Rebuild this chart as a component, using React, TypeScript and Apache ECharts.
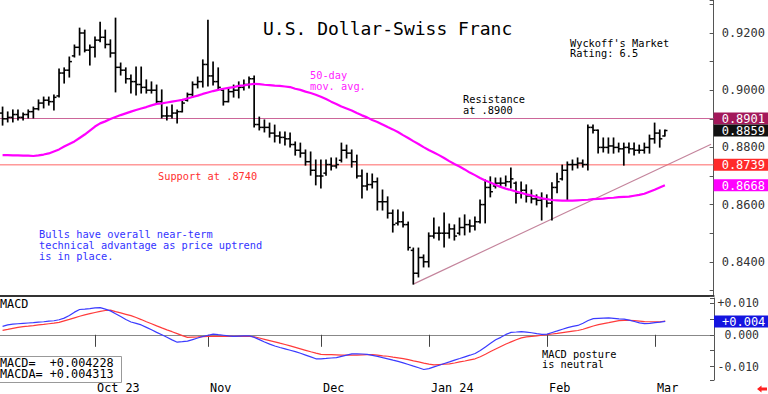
import React, { useEffect, useRef } from 'react';
import * as echarts from 'echarts';

const MONO = '"DejaVu Sans Mono", "Liberation Mono", monospace';

// ---- categories (weekday trading days, incl. empty future slots) ----
const FIRST_DAY = [2023, 8, 6]; // 2023-09-06
const SLOT_COUNT = 139;
const MONTH_TICKS: Record<string, string> = {
  '2023-10-02': 'Oct 23',
  '2023-11-01': 'Nov',
  '2023-12-01': 'Dec',
  '2024-01-01': 'Jan 24',
  '2024-02-01': 'Feb',
  '2024-03-01': 'Mar',
};
function tradingDays(): string[] {
  const out: string[] = [];
  const d = new Date(Date.UTC(FIRST_DAY[0], FIRST_DAY[1], FIRST_DAY[2]));
  while (out.length < SLOT_COUNT) {
    const wd = d.getUTCDay();
    if (wd !== 0 && wd !== 6) out.push(d.toISOString().slice(0, 10));
    d.setUTCDate(d.getUTCDate() + 1);
  }
  return out;
}
const DATES = tradingDays();

// ---- price bars ----
const OPEN = [0.8920,0.8900,0.8905,0.8915,0.8905,0.8915,0.8925,0.8935,0.8955,0.8965,
0.8960,0.8980,0.9060,0.9070,0.9120,0.9150,0.9200,0.9140,0.9150,0.9175,
0.9185,0.9160,0.9130,0.9080,0.9070,0.9040,0.9030,0.9020,0.9010,0.9000,
0.9000,0.8960,0.8910,0.8910,0.8920,0.8925,0.8965,0.8985,0.9020,0.9030,
0.9090,0.9050,0.9030,0.9000,0.8960,0.8995,0.9000,0.9010,0.9020,0.9040,
0.8880,0.8870,0.8870,0.8850,0.8840,0.8835,0.8830,0.8810,0.8790,0.8780,
0.8750,0.8720,0.8700,0.8710,0.8740,0.8735,0.8755,0.8790,0.8780,0.8750,
0.8700,0.8665,0.8670,0.8680,0.8610,0.8610,0.8570,0.8535,0.8540,0.8530,
0.8440,0.8360,0.8415,0.8400,0.8490,0.8500,0.8500,0.8500,0.8515,0.8500,
0.8520,0.8530,0.8525,0.8540,0.8600,0.8660,0.8665,0.8675,0.8675,0.8680,
0.8675,0.8640,0.8650,0.8630,0.8620,0.8615,0.8620,0.8605,0.8660,0.8690,
0.8720,0.8740,0.8740,0.8745,0.8740,0.8870,0.8860,0.8800,0.8800,0.8805,
0.8800,0.8795,0.8800,0.8795,0.8790,0.8790,0.8800,0.8830,0.8850,0.8840];
const HIGH = [0.8941,0.8924,0.8931,0.8931,0.8920,0.8931,0.8941,0.8966,0.8976,0.8976,
0.8983,0.9074,0.9078,0.9116,0.9158,0.9217,0.9210,0.9158,0.9186,0.9238,
0.9210,0.9176,0.9252,0.9095,0.9078,0.9053,0.9081,0.9081,0.9036,0.9029,
0.9018,0.9001,0.8941,0.8948,0.8931,0.8966,0.8990,0.9029,0.9046,0.9106,
0.9245,0.9099,0.9078,0.9001,0.9008,0.9018,0.9029,0.9036,0.9046,0.9050,
0.8906,0.8896,0.8885,0.8878,0.8854,0.8854,0.8850,0.8819,0.8815,0.8791,
0.8784,0.8756,0.8756,0.8756,0.8763,0.8763,0.8815,0.8808,0.8791,0.8773,
0.8721,0.8710,0.8707,0.8693,0.8651,0.8627,0.8581,0.8581,0.8574,0.8539,
0.8448,0.8448,0.8424,0.8501,0.8553,0.8522,0.8571,0.8532,0.8529,0.8553,
0.8564,0.8546,0.8557,0.8616,0.8686,0.8697,0.8693,0.8693,0.8700,0.8728,
0.8679,0.8679,0.8669,0.8651,0.8634,0.8641,0.8634,0.8676,0.8710,0.8738,
0.8749,0.8756,0.8763,0.8756,0.8878,0.8878,0.8861,0.8833,0.8833,0.8833,
0.8815,0.8815,0.8815,0.8815,0.8808,0.8815,0.8843,0.8885,0.8861,0.8861];
const LOW = [0.8878,0.8889,0.8889,0.8896,0.8896,0.8903,0.8903,0.8931,0.8938,0.8948,
0.8931,0.8976,0.9025,0.9046,0.9116,0.9123,0.9134,0.9088,0.9116,0.9169,
0.9148,0.9116,0.8994,0.9053,0.9025,0.8990,0.8983,0.8990,0.8990,0.8990,
0.8955,0.8903,0.8896,0.8903,0.8885,0.8924,0.8962,0.8976,0.9008,0.9011,
0.9015,0.9018,0.9001,0.8948,0.8959,0.8976,0.8973,0.9001,0.9008,0.8871,
0.8861,0.8854,0.8836,0.8819,0.8815,0.8808,0.8801,0.8773,0.8766,0.8738,
0.8703,0.8669,0.8658,0.8703,0.8721,0.8728,0.8749,0.8763,0.8731,0.8693,
0.8623,0.8651,0.8658,0.8581,0.8581,0.8553,0.8504,0.8529,0.8522,0.8441,
0.8322,0.8347,0.8382,0.8382,0.8483,0.8476,0.8452,0.8483,0.8476,0.8494,
0.8494,0.8504,0.8511,0.8536,0.8536,0.8627,0.8658,0.8662,0.8665,0.8658,
0.8606,0.8623,0.8609,0.8606,0.8599,0.8546,0.8592,0.8546,0.8641,0.8686,
0.8616,0.8721,0.8728,0.8731,0.8721,0.8850,0.8780,0.8784,0.8780,0.8780,
0.8784,0.8738,0.8780,0.8773,0.8780,0.8780,0.8780,0.8815,0.8801,0.8840];
const CLOSE = [0.8900,0.8905,0.8915,0.8905,0.8915,0.8925,0.8935,0.8955,0.8965,0.8960,
0.8975,0.9060,0.9070,0.9100,0.9150,0.9200,0.9140,0.9150,0.9175,0.9185,
0.9160,0.9130,0.9080,0.9070,0.9040,0.9030,0.9020,0.9010,0.9000,0.9000,
0.8960,0.8910,0.8910,0.8920,0.8925,0.8955,0.8985,0.9020,0.9030,0.9090,
0.9050,0.9030,0.9010,0.8960,0.8995,0.9000,0.9010,0.9020,0.9040,0.8880,
0.8870,0.8870,0.8850,0.8840,0.8835,0.8830,0.8810,0.8790,0.8780,0.8750,
0.8720,0.8700,0.8700,0.8740,0.8735,0.8740,0.8790,0.8780,0.8750,0.8700,
0.8665,0.8670,0.8680,0.8610,0.8610,0.8570,0.8530,0.8540,0.8530,0.8450,
0.8360,0.8415,0.8400,0.8490,0.8500,0.8500,0.8500,0.8515,0.8490,0.8520,
0.8530,0.8525,0.8540,0.8600,0.8660,0.8645,0.8675,0.8675,0.8680,0.8690,
0.8640,0.8650,0.8630,0.8620,0.8615,0.8620,0.8605,0.8660,0.8680,0.8720,
0.8740,0.8740,0.8745,0.8740,0.8870,0.8860,0.8800,0.8800,0.8805,0.8800,
0.8795,0.8800,0.8795,0.8790,0.8790,0.8800,0.8830,0.8850,0.8830,0.8859];

// 50-day moving average
const MA50 = [0.8773,0.8773,0.8772,0.8772,0.8771,0.8771,0.8770,0.8772,0.8775,0.8779,
0.8786,0.8793,0.8803,0.8812,0.8821,0.8833,0.8845,0.8859,0.8873,0.8884,
0.8891,0.8899,0.8906,0.8913,0.8919,0.8925,0.8931,0.8936,0.8941,0.8947,
0.8952,0.8954,0.8957,0.8960,0.8963,0.8966,0.8971,0.8976,0.8981,0.8987,
0.8992,0.8997,0.9001,0.9005,0.9008,0.9011,0.9015,0.9017,0.9020,0.9022,
0.9021,0.9019,0.9018,0.9016,0.9015,0.9013,0.9011,0.9005,0.9001,0.8995,
0.8990,0.8984,0.8977,0.8969,0.8960,0.8952,0.8943,0.8936,0.8929,0.8920,
0.8912,0.8905,0.8896,0.8889,0.8880,0.8871,0.8863,0.8854,0.8843,0.8833,
0.8822,0.8812,0.8801,0.8791,0.8782,0.8773,0.8763,0.8752,0.8742,0.8733,
0.8723,0.8712,0.8703,0.8693,0.8684,0.8677,0.8669,0.8662,0.8656,0.8651,
0.8646,0.8641,0.8636,0.8632,0.8627,0.8622,0.8619,0.8616,0.8615,0.8614,
0.8614,0.8614,0.8615,0.8616,0.8617,0.8619,0.8620,0.8621,0.8623,0.8624,
0.8626,0.8627,0.8628,0.8631,0.8634,0.8638,0.8645,0.8652,0.8660,0.8668];

// MACD panel
const MACD = [0.00268,0.00311,0.00335,0.00348,0.00360,0.00372,0.00382,0.00400,0.00412,0.00428,
0.00443,0.00474,0.00526,0.00606,0.00714,0.00797,0.00812,0.00828,0.00846,0.00858,
0.00809,0.00754,0.00662,0.00575,0.00483,0.00403,0.00360,0.00311,0.00234,0.00157,
0.00077,0.00000,-0.00080,-0.00160,-0.00234,-0.00218,-0.00200,-0.00151,-0.00102,-0.00055,
-0.00015,0.00022,0.00003,-0.00015,-0.00034,-0.00049,-0.00043,-0.00037,-0.00031,-0.00080,
-0.00151,-0.00225,-0.00295,-0.00354,-0.00400,-0.00443,-0.00486,-0.00529,-0.00582,-0.00640,
-0.00698,-0.00757,-0.00757,-0.00745,-0.00732,-0.00720,-0.00680,-0.00640,-0.00600,-0.00597,
-0.00606,-0.00618,-0.00649,-0.00680,-0.00720,-0.00757,-0.00800,-0.00840,-0.00883,-0.00935,
-0.00988,-0.01040,-0.01095,-0.01068,-0.01012,-0.00960,-0.00905,-0.00852,-0.00797,-0.00748,
-0.00695,-0.00643,-0.00588,-0.00495,-0.00382,-0.00268,-0.00157,-0.00080,0.00012,0.00077,
0.00089,0.00102,0.00086,0.00065,0.00037,0.00012,0.00022,0.00074,0.00123,0.00175,
0.00225,0.00265,0.00295,0.00366,0.00449,0.00508,0.00517,0.00526,0.00535,0.00520,
0.00502,0.00492,0.00462,0.00418,0.00375,0.00354,0.00360,0.00385,0.00400,0.004228];
const MACDA = [0.00138,0.00169,0.00203,0.00234,0.00258,0.00274,0.00292,0.00311,0.00329,0.00348,
0.00366,0.00391,0.00440,0.00486,0.00535,0.00585,0.00628,0.00665,0.00702,0.00738,
0.00766,0.00778,0.00732,0.00689,0.00646,0.00603,0.00545,0.00480,0.00412,0.00348,
0.00280,0.00218,0.00157,0.00098,0.00037,-0.00025,-0.00080,-0.00071,-0.00065,-0.00058,
-0.00052,-0.00049,-0.00049,-0.00049,-0.00049,-0.00049,-0.00049,-0.00049,-0.00049,-0.00062,
-0.00102,-0.00142,-0.00182,-0.00222,-0.00265,-0.00305,-0.00351,-0.00397,-0.00443,-0.00489,
-0.00535,-0.00578,-0.00615,-0.00622,-0.00628,-0.00634,-0.00640,-0.00643,-0.00643,-0.00640,
-0.00634,-0.00628,-0.00625,-0.00643,-0.00665,-0.00677,-0.00702,-0.00726,-0.00751,-0.00785,
-0.00822,-0.00855,-0.00892,-0.00926,-0.00951,-0.00938,-0.00926,-0.00914,-0.00889,-0.00855,
-0.00825,-0.00791,-0.00757,-0.00692,-0.00612,-0.00529,-0.00449,-0.00369,-0.00289,-0.00222,
-0.00157,-0.00098,-0.00068,-0.00052,-0.00034,-0.00015,0.00003,0.00025,0.00046,0.00071,
0.00092,0.00114,0.00135,0.00175,0.00228,0.00277,0.00320,0.00354,0.00382,0.00415,
0.00446,0.00452,0.00452,0.00446,0.00434,0.00418,0.00412,0.00412,0.00412,0.004313];

// key levels
const RESISTANCE = 0.8901;
const SUPPORT = 0.8739;
const LAST_CLOSE = 0.8859;
const LAST_MA = 0.8668;
const LAST_MACD = 0.004228;
const LAST_MACDA = 0.004313;
const TREND_LINE = [[80, 0.8322], [138, 0.8811]];

const PRICE_LABELS = ['0.8400', '0.8600', '0.8800', '0.9000', '0.9200'];
const MACD_LABELS: Record<string, string> = { '0.010': '+0.010', '0.000': '0.000', '-0.010': '-0.010' };

const sign = (v: number, d: number) => (v >= 0 ? '+' : '-') + Math.abs(v).toFixed(d);

// marker values shown on the right-hand scale, with their drawing style
const PRICE_MARKERS = [RESISTANCE, LAST_CLOSE, SUPPORT, LAST_MA];
const PRICE_MARKER_STYLE = [
  { line: '#cc6699', box: '#a3195b', text: RESISTANCE.toFixed(4) },
  { line: '', box: '#111111', text: LAST_CLOSE.toFixed(4) },
  { line: '#ff6666', box: '#ff2a2a', text: SUPPORT.toFixed(4) },
  { line: '', box: '#ff00ff', text: LAST_MA.toFixed(4) },
];
const MACD_MARKERS = [LAST_MACD];
const MACD_MARKER_STYLE = [{ line: '', box: '#1414e0', text: sign(LAST_MACD, 3) }];

function markerRenderer(styles: { line: string; box: string; text: string }[]) {
  return (params: any, api: any) => {
    const k = api.value(2);
    const s = styles[k];
    const cs = params.coordSys;
    const y = api.coord([0, api.value(1)])[1];
    const right = cs.x + cs.width;
    const children: any[] = [];
    if (s.line) {
      children.push({ type: 'line', shape: { x1: cs.x, y1: y, x2: right, y2: y }, style: { stroke: s.line, lineWidth: 1 } });
    }
    children.push({ type: 'rect', shape: { x: right, y: y - 6, width: 56, height: 12 }, style: { fill: s.box } });
    children.push({
      type: 'text', x: right + 8, y: y + 0.5,
      style: { text: s.text, fill: '#fff', fontFamily: MONO, fontSize: 12, verticalAlign: 'middle', align: 'left' },
    });
    return { type: 'group', children };
  };
}

function buildOption(): any {
  const bars = CLOSE.map((c, i) => [i, OPEN[i], c, LOW[i], HIGH[i]]);
  const txt = (text: string, x: number, y: number, fill: string, size: number, lh = 10.5) => ({
    type: 'text',
    x,
    y,
    silent: true,
    style: { text, fill, fontFamily: MONO, fontSize: size, lineHeight: lh, verticalAlign: 'top', align: 'left' },
  });
  return {
    animation: false,
    backgroundColor: '#fff',
    grid: [
      { left: 0, right: 54, top: 0, height: 296 },
      { left: 0, right: 54, top: 298, height: 84 },
    ],
    xAxis: [
      {
        type: 'category', gridIndex: 0, data: DATES, boundaryGap: true,
        axisLine: { show: true, lineStyle: { color: '#333', width: 2 } },
        axisTick: { show: false }, axisLabel: { show: false }, splitLine: { show: false },
      },
      {
        type: 'category', gridIndex: 1, data: DATES, boundaryGap: true,
        axisLine: { show: true, lineStyle: { color: '#888', width: 1 } },
        axisTick: {
          show: true, alignWithLabel: true, length: 12,
          interval: (_i: number, v: string) => v in MONTH_TICKS,
          lineStyle: { color: '#444', width: 1 },
        },
        axisLabel: {
          show: true, interval: (_i: number, v: string) => v in MONTH_TICKS,
          formatter: (v: string) => MONTH_TICKS[v] || '',
          align: 'left', margin: 2, padding: [0, 0, 0, 2],
          fontFamily: MONO, fontSize: 11.8, color: '#000',
        },
        splitLine: { show: false },
      },
    ],
    yAxis: [
      {
        type: 'value', gridIndex: 0, position: 'right', min: 0.82804, max: 0.93154, splitNumber: 10,
        axisLine: { show: true, lineStyle: { color: '#555', width: 1 } },
        axisTick: { show: true, inside: true, length: 4, lineStyle: { color: '#555' } },
        axisLabel: {
          margin: 8, fontFamily: MONO, fontSize: 12, color: '#333',
          formatter: (v: number) => (PRICE_LABELS.includes(v.toFixed(4)) ? v.toFixed(4) : ''),
        },
        splitLine: { show: false },
      },
      {
        type: 'value', gridIndex: 1, position: 'right', min: -0.01425, max: 0.0116, splitNumber: 5,
        axisLine: { show: true, lineStyle: { color: '#555', width: 1 } },
        axisTick: { show: true, inside: true, length: 4, lineStyle: { color: '#555' } },
        axisLabel: {
          margin: 45, align: 'right', fontFamily: MONO, fontSize: 11.5, color: '#333',
          formatter: (v: number) => MACD_LABELS[(Math.abs(v) < 1e-9 ? 0 : v).toFixed(3)] || '',
        },
        splitLine: { show: false },
      },
    ],
    series: [
      {
        type: 'line', name: 'trend', xAxisIndex: 0, yAxisIndex: 0, data: TREND_LINE,
        symbol: 'none', lineStyle: { color: '#c4849c', width: 1.2 }, z: 1, silent: true,
      },
      {
        type: 'custom', name: 'levels', xAxisIndex: 0, yAxisIndex: 0, clip: false, z: 2, silent: true,
        data: PRICE_MARKERS.map((v, k) => [0, v, k]),
        encode: { x: 0, y: 1 },
        renderItem: markerRenderer(PRICE_MARKER_STYLE),
      },
      {
        type: 'custom', name: 'USD/CHF', xAxisIndex: 0, yAxisIndex: 0, data: bars,
        encode: { x: 0, y: [1, 2, 3, 4] }, z: 3, silent: true,
        renderItem: (_p: any, api: any) => {
          const i = api.value(0);
          const pH = api.coord([i, api.value(4)]);
          const pL = api.coord([i, api.value(3)]);
          const pO = api.coord([i, api.value(1)]);
          const pC = api.coord([i, api.value(2)]);
          return {
            type: 'group',
            children: [
              { type: 'line', shape: { x1: pH[0], y1: pH[1] - 0.5, x2: pL[0], y2: pL[1] + 0.5 }, style: { stroke: '#000', lineWidth: 1.7 } },
              { type: 'line', shape: { x1: pO[0] - 2.6, y1: pO[1], x2: pO[0], y2: pO[1] }, style: { stroke: '#000', lineWidth: 1.5 } },
              { type: 'line', shape: { x1: pC[0], y1: pC[1], x2: pC[0] + 2.6, y2: pC[1] }, style: { stroke: '#000', lineWidth: 1.5 } },
            ],
          };
        },
      },
      {
        type: 'line', name: '50-day MA', xAxisIndex: 0, yAxisIndex: 0, data: MA50,
        symbol: 'none', lineStyle: { color: '#ff00ff', width: 2.2 }, z: 4, silent: true,
      },
      {
        type: 'line', name: 'MACDA', xAxisIndex: 1, yAxisIndex: 1, data: MACDA,
        symbol: 'none', lineStyle: { color: '#ff3b3b', width: 1.2 }, z: 2, silent: true,
      },
      {
        type: 'line', name: 'MACD', xAxisIndex: 1, yAxisIndex: 1, data: MACD,
        symbol: 'none', lineStyle: { color: '#3b3bff', width: 1.2 }, z: 3, silent: true,
      },
      {
        type: 'custom', name: 'macd level', xAxisIndex: 1, yAxisIndex: 1, clip: false, z: 5, silent: true,
        data: MACD_MARKERS.map((v, k) => [0, v, k]),
        encode: { x: 0, y: 1 },
        renderItem: markerRenderer(MACD_MARKER_STYLE),
      },
    ],
    graphic: [
      txt('U.S. Dollar-Swiss Franc', 263, 18, '#000', 18, 20),
      txt("Wyckoff's Market\nRating: 6.5", 570, 38, '#000', 10.3, 10),
      txt('50-day\nmov. avg.', 310, 70, '#ff22ff', 10.3, 10.5),
      txt('Resistance\nat .8900', 463, 94, '#000', 10.3, 10.5),
      txt('Support at .8740', 158, 171, '#ff3030', 10.3),
      txt('Bulls have overall near-term\ntechnical advantage as price uptrend\nis in place.', 39, 229, '#3333ff', 10.3, 10.7),
      txt('MACD', 0, 298, '#000', 11.8, 12),
      txt('MACD posture\nis neutral', 542, 348.5, '#000', 10.3, 10.5),
      {
        type: 'rect', silent: true, z: 10,
        shape: { x: -1, y: 356.5, width: 122.5, height: 26 },
        style: { fill: '#fff', stroke: '#999', lineWidth: 1 },
      },
      { ...txt('MACD=  ' + sign(LAST_MACD, 6) + '\nMACDA= ' + sign(LAST_MACDA, 6), 0, 357, '#000', 11.8, 11.5), z: 11 },
      {
        type: 'polygon', silent: true,
        shape: { points: [[757, 389], [761.5, 385.5], [761.5, 387.5], [767, 387.5], [767, 390.5], [761.5, 390.5], [761.5, 392.5]] },
        style: { fill: '#ff2020' },
      },
    ],
  };
}

export default function App() {
  const ref = useRef<HTMLDivElement>(null);
  useEffect(() => {
    if (!ref.current) return;
    const chart = echarts.init(ref.current, null, { renderer: 'svg' });
    chart.setOption(buildOption());
    return () => chart.dispose();
  }, []);
  return (
    <div
      ref={ref}
      style={{ position: 'fixed', left: 0, top: 0, width: 768, height: 394, background: '#fff' }}
    />
  );
}
